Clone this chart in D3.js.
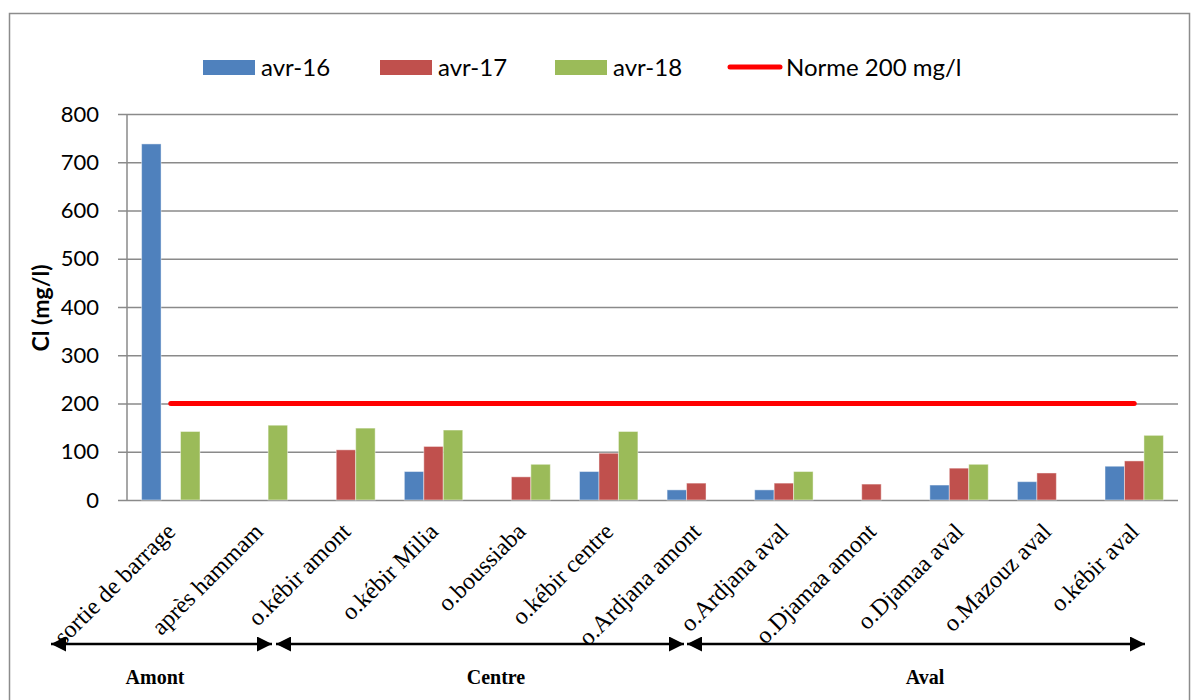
<!DOCTYPE html>
<html>
<head>
<meta charset="utf-8">
<script src="https://cdn.jsdelivr.net/npm/d3@7"></script>
<style>
  html, body { margin: 0; padding: 0; background: #fff; }
  svg { display: block; }
</style>
</head>
<body>
<svg id="chart" width="1192" height="700"></svg>
<script>
// Sampling stations along the river, upstream to downstream
const stations = [
  "sortie de barrage", "après hammam", "o.kébir amont", "o.kébir Milia",
  "o.boussiaba", "o.kébir centre", "o.Ardjana amont", "o.Ardjana aval",
  "o.Djamaa amont", "o.Djamaa aval", "o.Mazouz aval", "o.kébir aval"
];
const seriesNames = ["avr-16", "avr-17", "avr-18"];
// Chloride concentrations (mg/l); null = no measurement
const avr16 = [738, null, null, 59, null, 59, 21, 21, null, 31, 38, 70];
const avr17 = [null, null, 104, 111, 48, 97, 35, 35, 33, 66, 56, 81];
const avr18 = [142, 155, 149, 145, 74, 142, null, 59, null, 74, null, 134];
const normValue = 200;
const normLabel = "Norme 200 mg/l";
const yTicks = [0, 100, 200, 300, 400, 500, 600, 700, 800];
const zoneNames = ["Amont", "Centre", "Aval"];

const colors = { "avr-16": "#4F81BD", "avr-17": "#C0504D", "avr-18": "#9BBB59" };
const normColor = "#FF0000";
const gridColor = "#8a8a8a";
const sansFont = "Lato, 'Open Sans', sans-serif";
const serifFont = "'Liberation Serif', 'Times New Roman', serif";

const svg = d3.select("#chart");

// Outer frame
svg.append("rect")
  .attr("x", 9.5).attr("y", 13.5)
  .attr("width", 1180).attr("height", 720)
  .attr("fill", "none").attr("stroke", "#8c8c8c").attr("stroke-width", 1.5);

const plot = { left: 127, right: 1178, top: 114, bottom: 500 };

const x = d3.scaleBand()
  .domain(stations)
  .range([plot.left, plot.right])
  .paddingInner(1 / 3)
  .paddingOuter(1 / 6);

const xSeries = d3.scaleBand()
  .domain(seriesNames)
  .range([0, x.bandwidth()]);

const y = d3.scaleLinear()
  .domain([0, 800])
  .range([plot.bottom, plot.top]);

// Horizontal gridlines with tick labels
const yAxis = d3.axisLeft(y)
  .tickValues(yTicks)
  .tickSize(plot.right - plot.left + 9)
  .tickPadding(19)
  .tickFormat(d3.format("d"));

const gAxis = svg.append("g")
  .attr("transform", `translate(${plot.right},0)`)
  .call(yAxis);
gAxis.select(".domain").remove();
gAxis.selectAll(".tick line")
  .attr("stroke", gridColor).attr("stroke-width", 1.5);
gAxis.selectAll(".tick text")
  .attr("font-family", sansFont).attr("font-size", 22)
  .attr("fill", "#000");

// Vertical value axis line
svg.append("line")
  .attr("x1", plot.left).attr("x2", plot.left)
  .attr("y1", plot.top).attr("y2", plot.bottom)
  .attr("stroke", gridColor).attr("stroke-width", 1.5);

// Axis title
svg.append("text")
  .attr("transform", `translate(49,${(plot.top + plot.bottom) / 2 + 1}) rotate(-90)`)
  .attr("text-anchor", "middle")
  .attr("font-family", sansFont).attr("font-weight", "bold").attr("font-size", 23)
  .text("Cl (mg/l)");

// Bars
const seriesData = { "avr-16": avr16, "avr-17": avr17, "avr-18": avr18 };
const barRows = [];
seriesNames.forEach(s => {
  seriesData[s].forEach((v, i) => {
    if (v !== null) barRows.push({ series: s, station: stations[i], value: v });
  });
});

svg.append("g").selectAll("rect")
  .data(barRows)
  .join("rect")
  .attr("x", d => x(d.station) + xSeries(d.series))
  .attr("y", d => y(d.value))
  .attr("width", xSeries.bandwidth())
  .attr("height", d => y(0) - y(d.value))
  .attr("fill", d => colors[d.series])
  .attr("stroke", "rgba(255,255,255,0.45)")
  .attr("stroke-width", 1);

// Norm line through the category centres
const normLine = d3.line()
  .x(d => x(d) + x.bandwidth() / 2)
  .y(() => y(normValue));

svg.append("path")
  .datum(stations)
  .attr("d", normLine)
  .attr("fill", "none")
  .attr("stroke", normColor)
  .attr("stroke-width", 5)
  .attr("stroke-linecap", "round");

// Category labels, rotated
svg.append("g").selectAll("text")
  .data(stations)
  .join("text")
  .attr("transform", d => `translate(${x(d) + x.bandwidth() / 2 + 6},533) rotate(-45)`)
  .attr("text-anchor", "end")
  .attr("font-family", serifFont).attr("font-size", 24)
  .attr("fill", "#000")
  .text(d => d);

// Zone arrows below the labels
const defs = svg.append("defs");
defs.append("marker")
  .attr("id", "head")
  .attr("viewBox", "0 0 10 10")
  .attr("refX", 10).attr("refY", 5)
  .attr("markerWidth", 15).attr("markerHeight", 15)
  .attr("markerUnits", "userSpaceOnUse")
  .attr("orient", "auto-start-reverse")
  .append("path")
  .attr("d", "M0,0 L10,5 L0,10 Z")
  .attr("fill", "#000");

const arrowY = 644;
// Horizontal extent of each zone arrow (pixels)
const zoneSpans = [[51, 272], [276, 684], [687, 1145]];
const zoneLabelX = [155, 496, 925];

const zoneG = svg.append("g");
zoneNames.forEach((name, k) => {
  const [x0, x1] = zoneSpans[k];
  zoneG.append("line")
    .attr("x1", x0).attr("x2", x1)
    .attr("y1", arrowY).attr("y2", arrowY)
    .attr("stroke", "#000").attr("stroke-width", 2.5)
    .attr("marker-start", "url(#head)")
    .attr("marker-end", "url(#head)");
  zoneG.append("text")
    .attr("x", zoneLabelX[k])
    .attr("y", 684)
    .attr("text-anchor", "middle")
    .attr("font-family", serifFont).attr("font-weight", "bold").attr("font-size", 20)
    .text(name);
});

// Legend
const legendItems = [
  { label: "avr-16", type: "bar", color: colors["avr-16"], x: 203 },
  { label: "avr-17", type: "bar", color: colors["avr-17"], x: 380 },
  { label: "avr-18", type: "bar", color: colors["avr-18"], x: 555 },
  { label: normLabel, type: "line", color: normColor, x: 728 }
];
const legend = svg.append("g");
legendItems.forEach(it => {
  if (it.type === "bar") {
    legend.append("rect")
      .attr("x", it.x).attr("y", 60)
      .attr("width", 52).attr("height", 15)
      .attr("fill", it.color);
  } else {
    legend.append("line")
      .attr("x1", it.x + 2).attr("x2", it.x + 52)
      .attr("y1", 67).attr("y2", 67)
      .attr("stroke", it.color).attr("stroke-width", 5)
      .attr("stroke-linecap", "round");
  }
  legend.append("text")
    .attr("x", it.x + 58).attr("y", 76)
    .attr("font-family", sansFont).attr("font-size", 24)
    .attr("fill", "#000")
    .text(it.label);
});
</script>
</body>
</html>
